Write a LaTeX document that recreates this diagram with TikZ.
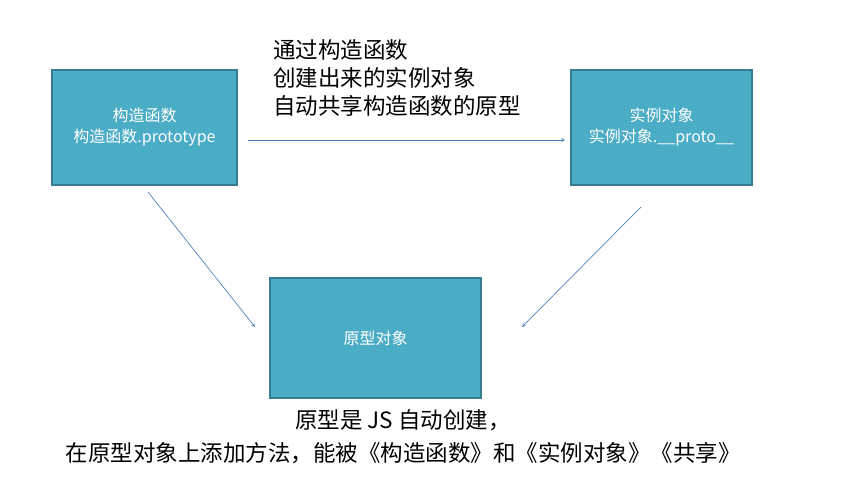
\documentclass[tikz,border=0pt]{standalone}
\usepackage{fontspec}
\setmainfont{Noto Sans CJK SC}
\usetikzlibrary{positioning}
\definecolor{boxteal}{RGB}{75, 172, 198}
\definecolor{boxedge}{RGB}{53, 126, 146}
\definecolor{linkblue}{RGB}{79, 129, 189}
\tikzset{
  objbox/.style={rectangle, draw=boxedge, line width=1.2pt, fill=boxteal, text=white, align=center, font=\fontsize{16}{21}\selectfont},
  note/.style={align=left, font=\fontsize{22.5}{28}\selectfont, inner sep=0pt},
  link/.style={draw=linkblue, line width=0.7pt, ->, >=stealth}
}
\begin{document}
\begin{tikzpicture}[x=1pt, y=-1pt]
\useasboundingbox (0,0) rectangle (842,495);

% boxes
\node (ctor) [objbox, minimum width=185pt, minimum height=115pt] at (144.5,127.5) {构造函数\\构造函数.prototype};
\node (inst) [objbox, minimum width=181pt, minimum height=115pt] at (661.5,127.5) {实例对象\\实例对象.\_\_proto\_\_};
\node (proto) [objbox, minimum width=211pt, minimum height=120pt] at (375.5,338) {原型对象};

% notes
\node (topnote) [note, anchor=north west] at (273,39) {通过构造函数\\创建出来的实例对象\\自动共享构造函数的原型};
\node (bottomnote) [note, align=center, anchor=north, font=\fontsize{22.5}{33}\selectfont] at (403,409) {原型是 JS 自动创建，\\在原型对象上添加方法，能被《构造函数》和《实例对象》《共享》};

% arrows
\coordinate (a1) at (248,140);
\coordinate (a2) at (565,140);
\coordinate (b1) at (148,192);
\coordinate (b2) at (255,327);
\coordinate (c1) at (641,207);
\coordinate (c2) at (522,327);
\draw [link] (a1) -- (a2);
\draw [link] (b1) -- (b2);
\draw [link] (c1) -- (c2);

\end{tikzpicture}
\end{document}
